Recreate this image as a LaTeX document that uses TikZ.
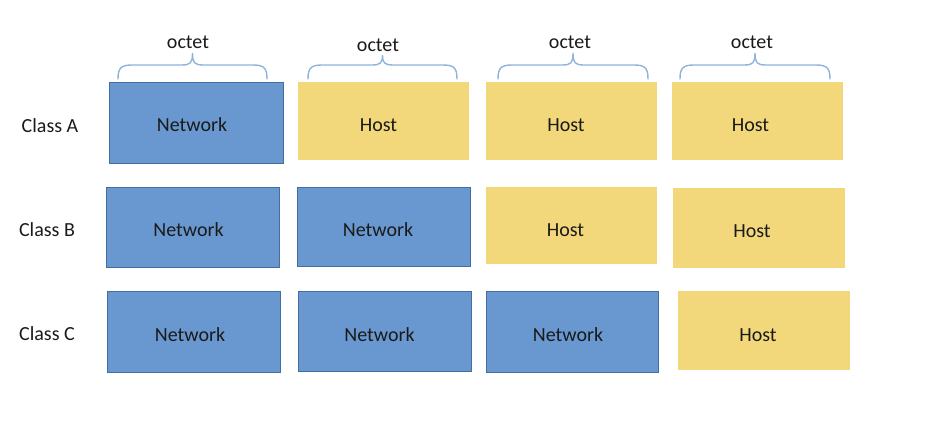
\documentclass[tikz,border=0pt]{standalone}
\usepackage{fontspec}
\setmainfont{Carlito}
\definecolor{netblue}{HTML}{6898CF}
\definecolor{netedge}{HTML}{41709F}
\definecolor{hostyel}{HTML}{F2D87A}
\definecolor{bracecol}{HTML}{8FB4DC}
\definecolor{txt}{HTML}{1A1A1A}
\tikzset{
  lbl/.style={font=\fontsize{20}{24}\selectfont, text=txt, inner sep=0pt},
  netbox/.style={fill=netblue, draw=netedge, line width=0.9pt, inner sep=0pt},
  hostbox/.style={fill=hostyel, draw=none, inner sep=0pt},
  bracepath/.style={draw=bracecol, line width=1.4pt, line cap=round}
}
\newcommand{\octbrace}[4]{% left, right, center, tip y
  \draw[bracepath] (#1,79) .. controls (#1,68) and (#1+3,65) .. (#1+14,65)
    -- (#3-11,65) .. controls (#3-2,65) and (#3,63) .. (#3,#4)
    .. controls (#3,63) and (#3+2,65) .. (#3+11,65)
    -- (#2-14,65) .. controls (#2-3,65) and (#2,68) .. (#2,79);}
\begin{document}
\begin{tikzpicture}[x=1pt,y=-1pt]
\useasboundingbox (0,0) rectangle (936,420);
% class labels
\node[lbl] (ca) at (50,126) {Class A};
\node[lbl] (cb) at (47,230) {Class B};
\node[lbl] (cc) at (47,334) {Class C};
% row A
\node[netbox, minimum width=174pt, minimum height=81pt] (a0) at (196,122.5) {};
\node[hostbox, minimum width=171pt, minimum height=78pt] (a1) at (383.5,121) {};
\node[hostbox, minimum width=171pt, minimum height=78pt] (a2) at (571.5,121) {};
\node[hostbox, minimum width=171pt, minimum height=78pt] (a3) at (757.5,121) {};
\node[lbl] (a0t) at (192,125) {Network};
\node[lbl] (a1t) at (378.5,125) {Host};
\node[lbl] (a2t) at (566,125) {Host};
\node[lbl] (a3t) at (750.5,125) {Host};
% row B
\node[netbox, minimum width=173pt, minimum height=80pt] (b0) at (192.5,227) {};
\node[netbox, minimum width=173pt, minimum height=79pt] (b1) at (383.5,226.5) {};
\node[hostbox, minimum width=171pt, minimum height=77pt] (b2) at (571.5,225.5) {};
\node[hostbox, minimum width=172pt, minimum height=80pt] (b3) at (759,228) {};
\node[lbl] (b0t) at (188.5,229.5) {Network};
\node[lbl] (b1t) at (378,229.5) {Network};
\node[lbl] (b2t) at (565.5,230) {Host};
\node[lbl] (b3t) at (752,231) {Host};
% row C
\node[netbox, minimum width=173pt, minimum height=81pt] (c0) at (193.5,331.5) {};
\node[netbox, minimum width=173pt, minimum height=80pt] (c1) at (384.5,331) {};
\node[netbox, minimum width=172pt, minimum height=81pt] (c2) at (572,331.5) {};
\node[hostbox, minimum width=172pt, minimum height=79pt] (c3) at (764,330.5) {};
\node[lbl] (c0t) at (190,334.5) {Network};
\node[lbl] (c1t) at (379.5,334.5) {Network};
\node[lbl] (c2t) at (568,334.5) {Network};
\node[lbl] (c3t) at (758,335) {Host};
% octet labels
\node[lbl] (o1) at (188,42) {octet};
\node[lbl] (o2) at (378,45) {octet};
\node[lbl] (o3) at (570,42) {octet};
\node[lbl] (o4) at (752,42) {octet};
% braces
\octbrace{118}{267}{192.5}{53}
\octbrace{308}{457}{382.5}{55}
\octbrace{498}{648}{573}{53}
\octbrace{680}{830}{755}{53}
\end{tikzpicture}
\end{document}
